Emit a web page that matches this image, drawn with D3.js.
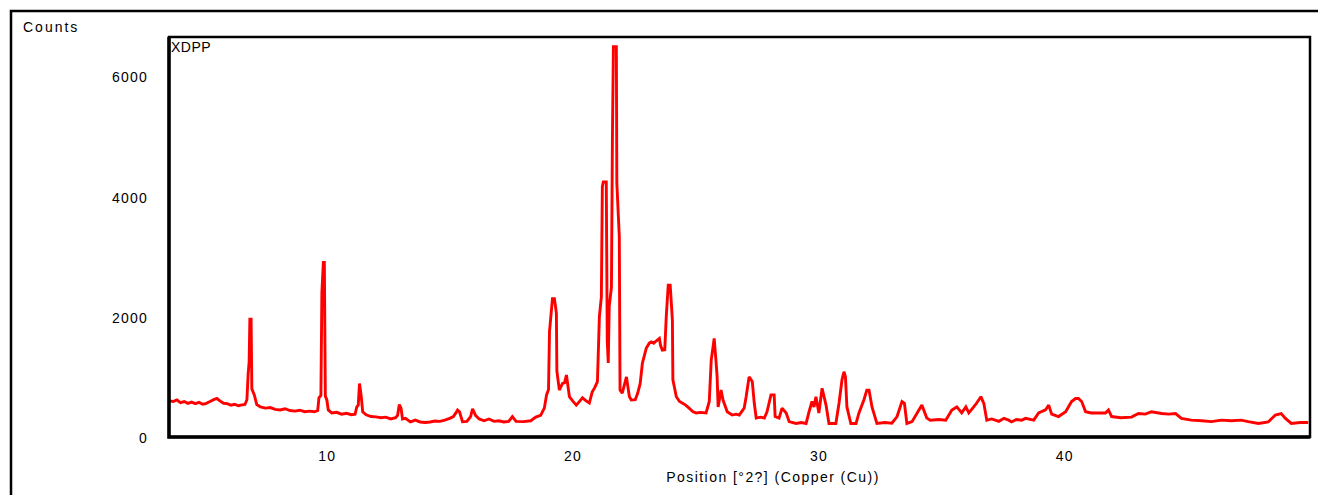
<!DOCTYPE html>
<html><head><meta charset="utf-8">
<script src="https://cdn.jsdelivr.net/npm/d3@7/dist/d3.min.js"></script>
<style>
html,body{margin:0;padding:0;background:#fff;}
svg{display:block;}
text{font-family:"Liberation Sans",Arial,sans-serif;fill:#000;}
</style></head>
<body><svg id="c" width="1318" height="495"></svg>
<script>
const seriesName = "XDPP";
const yTitle = "Counts";
const xTitle = "Position [°2?] (Copper (Cu))";
const xTicks = [10, 20, 30, 40];
const yTicks = [0, 2000, 4000, 6000];
const xDomain = [3.58, 50];
const yDomain = [0, 6650];

const twoTheta = [
3.58,3.75,3.9,4.05,4.2,4.35,4.5,4.65,4.8,4.95,5.1,5.25,5.4,5.53,5.65,5.8,5.95,6.1,6.25,6.4,6.55,6.67,
6.75,6.8,6.84,6.87,6.92,6.95,7.05,7.15,7.3,7.5,7.7,7.9,8.1,8.3,8.5,8.7,8.9,9.1,9.3,9.5,9.63,
9.68,9.76,9.8,9.86,9.9,9.94,10.0,10.06,10.2,10.4,10.6,10.8,11.0,11.15,11.22,11.28,11.33,11.4,11.46,
11.6,11.8,12.0,12.2,12.4,12.6,12.8,12.88,12.95,13.02,13.08,13.2,13.4,13.6,13.8,14.0,14.2,14.4,14.6,14.8,
15.0,15.15,15.25,15.32,15.4,15.52,15.7,15.85,15.93,16.05,16.2,16.4,16.6,16.8,17.0,17.2,17.4,17.55,17.7,
18.0,18.3,18.5,18.7,18.85,18.94,19.02,19.06,19.18,19.26,19.34,19.36,19.46,19.59,19.67,19.75,19.87,
20.0,20.15,20.3,20.4,20.55,20.68,20.8,20.9,21.01,21.09,21.17,21.21,21.25,21.37,21.41,21.45,21.49,
21.58,21.62,21.66,21.78,21.8,21.9,21.93,22.02,22.19,22.31,22.39,22.55,22.65,22.75,22.84,23.0,23.12,
23.2,23.3,23.41,23.53,23.58,23.65,23.75,23.81,23.89,23.97,24.06,24.08,24.22,24.35,24.46,24.6,24.74,
24.9,25.03,25.2,25.43,25.56,25.64,25.76,25.84,25.88,25.92,26.04,26.12,26.29,26.49,26.65,26.78,26.98,
27.06,27.18,27.22,27.31,27.39,27.47,27.65,27.8,27.91,28.07,28.2,28.24,28.4,28.52,28.69,28.81,29.09,
29.3,29.5,29.62,29.74,29.82,29.9,30.02,30.15,30.31,30.43,30.71,30.84,30.96,31.04,31.1,31.16,31.32,
31.53,31.65,31.85,31.97,32.06,32.18,32.38,32.7,32.99,33.2,33.4,33.5,33.6,33.81,34.09,34.21,34.41,
34.55,34.9,35.18,35.43,35.63,35.83,36.0,36.12,36.32,36.44,36.61,36.73,36.85,37.05,37.34,37.55,37.74,
37.86,38.05,38.27,38.43,38.76,38.96,39.24,39.37,39.49,39.77,40.06,40.3,40.46,40.58,40.71,40.87,41.1,
41.4,41.68,41.8,41.93,42.3,42.74,43.02,43.3,43.55,43.96,44.25,44.53,44.77,45.17,45.6,45.99,46.4,46.8,
47.2,47.49,47.9,48.3,48.59,48.83,49.0,49.24,49.6,49.93
];
const counts = [
600,590,615,570,590,560,580,555,575,545,560,590,620,640,600,560,555,530,545,520,535,540,
620,1050,1250,1960,1960,800,700,540,500,480,490,460,450,470,440,430,445,420,430,420,440,
650,690,2400,2900,2900,680,620,450,400,410,380,395,370,380,500,530,890,680,420,
370,340,335,320,330,300,320,360,540,480,300,310,250,280,250,240,250,265,260,280,
310,340,400,450,420,255,260,340,470,360,300,270,300,260,270,250,260,340,260,
255,270,330,360,480,700,790,1750,2300,2300,2060,1100,780,890,900,1030,670,
600,530,600,650,600,565,750,820,920,2000,2330,4160,4240,4240,1600,1230,2170,
2490,4990,6490,6490,4220,3330,780,730,1000,670,615,620,730,890,1230,1480,1560,
1580,1560,1600,1640,1520,1445,1450,2000,2525,2525,1945,950,670,590,565,530,480,
420,400,410,400,590,1280,1640,1230,1000,500,780,615,420,365,380,365,480,
670,1000,980,920,565,315,330,315,420,700,700,340,315,480,400,255,225,
240,225,420,590,500,670,400,810,530,225,225,565,950,1085,1000,500,225,
225,400,615,780,780,500,225,240,230,340,590,560,225,255,450,530,315,
280,290,280,450,500,400,500,400,500,565,670,560,280,300,260,310,280,
250,290,280,310,280,400,450,530,380,340,420,590,640,640,590,420,400,
400,400,450,340,320,330,390,380,420,390,380,390,310,280,270,255,280,270,
280,255,225,250,365,390,310,225,240,240
];

const svg = d3.select("#c");
const L = 169, R = 1310, T = 37, B = 437;
const x = d3.scaleLinear().domain(xDomain).range([L, R]);
const y = d3.scaleLinear().domain(yDomain).range([B, T]);

// outer frame
svg.append("path").attr("d", "M11,500V11H1320").attr("fill","none").attr("stroke","#000").attr("stroke-width",2.5);

svg.append("text").attr("x",23).attr("y",32).attr("font-size",14).attr("letter-spacing","2px").text(yTitle);

// axes (labels only)
const ya = svg.append("g").attr("transform",`translate(${L},0)`)
  .call(d3.axisLeft(y).tickValues(yTicks).tickSize(0).tickPadding(21).tickFormat(d3.format("d")));
ya.select(".domain").remove();
ya.selectAll("text").attr("font-size",14).attr("letter-spacing","1.2px").attr("font-family","Liberation Sans, Arial, sans-serif").attr("dy","0.4em");

const xa = svg.append("g").attr("transform",`translate(0,${B})`)
  .call(d3.axisBottom(x).tickValues(xTicks).tickSize(0).tickPadding(14).tickFormat(d3.format("d")));
xa.select(".domain").remove();
xa.selectAll("text").attr("font-size",14).attr("letter-spacing","1.2px").attr("font-family","Liberation Sans, Arial, sans-serif");

svg.append("text").attr("x",773).attr("y",482).attr("text-anchor","middle").attr("font-size",14).attr("letter-spacing","1.45px").text(xTitle);

// data line
const n = Math.min(twoTheta.length, counts.length);
const pts = twoTheta.slice(0, n).map((t,i)=>[t,counts[i]]);
svg.append("path").datum(pts)
  .attr("fill","none").attr("stroke","#ff0000").attr("stroke-width",2.9).attr("stroke-linejoin","miter").attr("stroke-miterlimit",2)
  .attr("d", d3.line().x(d=>x(d[0])).y(d=>y(d[1])));

// plot frame
svg.append("rect").attr("x",L).attr("y",T).attr("width",R-L).attr("height",B-T)
  .attr("fill","none").attr("stroke","#000").attr("stroke-width",2.5);
svg.append("path").attr("d",`M${L},${T}V${B}H${R}`).attr("fill","none").attr("stroke","#000").attr("stroke-width",3.5);

svg.append("text").attr("x",171).attr("y",52).attr("font-size",14).attr("letter-spacing","0.5px").text(seriesName);
</script></body></html>
